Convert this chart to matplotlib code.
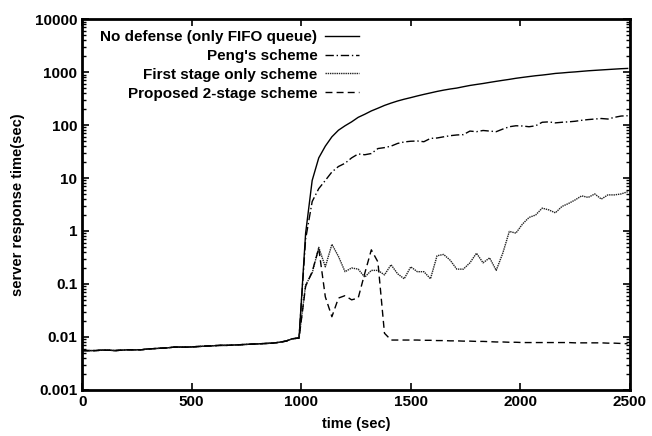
import numpy as np
import matplotlib
matplotlib.use('Agg')
import matplotlib.pyplot as plt
from matplotlib.ticker import LogLocator, FixedLocator, NullFormatter

plt.rcParams['font.family'] = ['Liberation Sans', 'DejaVu Sans']
plt.rcParams['font.weight'] = 'bold'

# sample times (sec), one sample every 30 s
t_pre = np.arange(0, 991, 30)        # before the attack, all schemes identical
t_post = np.arange(1020, 2491, 30)   # after the attack starts

# response time before the attack (shared by every scheme)
base = [0.0055, 0.0055, 0.0055, 0.0056, 0.0056, 0.0055, 0.0056, 0.0057, 0.0057,
        0.0057, 0.0059, 0.0060, 0.0061, 0.0062, 0.0064, 0.0064, 0.0064, 0.0065,
        0.0066, 0.0067, 0.0068, 0.0069, 0.0069, 0.0070, 0.0071, 0.0072, 0.0073,
        0.0074, 0.0075, 0.0076, 0.0079, 0.0083, 0.0092, 0.0095]

no_defense = [0.9, 9, 24, 40, 60, 80, 97, 115, 140, 160, 185, 208, 235, 260, 285,
              308, 330, 355, 380, 405, 432, 457, 480, 500, 530, 560, 585, 610, 640,
              670, 700, 730, 765, 795, 825, 855, 880, 910, 945, 965, 990, 1010, 1035,
              1060, 1080, 1100, 1120, 1140, 1160, 1175]

peng = [0.7, 3.6, 6.3, 9, 13, 16.5, 19, 24, 28.5, 27.5, 29, 36, 37.5, 40, 45, 48,
        49.5, 50, 48.5, 56, 57, 60, 63, 65, 66, 77, 75, 79, 77, 75, 84, 93, 97, 96,
        93, 97, 113, 115, 110, 113, 115, 118, 123, 127, 130, 133, 130, 140, 148, 150]

first_stage = [0.095, 0.16, 0.49, 0.21, 0.56, 0.33, 0.17, 0.20, 0.19, 0.134, 0.18,
               0.18, 0.148, 0.23, 0.155, 0.125, 0.21, 0.17, 0.17, 0.125, 0.34, 0.36,
               0.28, 0.19, 0.19, 0.25, 0.38, 0.25, 0.31, 0.18, 0.38, 0.98, 0.91, 1.35,
               1.8, 2.0, 2.7, 2.5, 2.2, 2.9, 3.3, 3.85, 4.6, 4.3, 5.0, 4.0, 4.8, 4.8,
               5.0, 5.5]

two_stage = [0.09, 0.17, 0.47, 0.057, 0.024, 0.054, 0.06, 0.05, 0.054, 0.158, 0.44,
             0.26, 0.0117, 0.0087, 0.0087, 0.0087, 0.0087, 0.0087, 0.0086, 0.0086,
             0.0085, 0.0085, 0.0084, 0.0084, 0.0083, 0.0083, 0.0082, 0.0082, 0.0081,
             0.0080, 0.0080, 0.0079, 0.0079, 0.0078, 0.0078, 0.0078, 0.0078, 0.0078,
             0.0078, 0.0078, 0.0078, 0.0077, 0.0077, 0.0077, 0.0077, 0.0077, 0.0076,
             0.0076, 0.0075, 0.0074]

labels = ['No defense (only FIFO queue)', "Peng's scheme",
          'First stage only scheme', 'Proposed 2-stage scheme']
styles = ['-', (0, (6, 2, 1, 2)), (0, (1, 0.6)), (0, (5, 3))]
colors = ['black', 'black', '#222222', 'black']

t_all = np.concatenate([t_pre, t_post])

fig = plt.figure(figsize=(6.52, 4.36), dpi=100)
ax = fig.add_axes([0.126, 0.106, 0.840, 0.850])

for ys, lab, ls, c in zip([no_defense, peng, first_stage, two_stage], labels, styles, colors):
    ax.plot(t_all, np.concatenate([base, ys]), color=c, linestyle=ls, lw=1.0, label=lab)

ax.set_yscale('log')
ax.set_xlim(0, 2500)
ax.set_ylim(0.001, 10000)
ax.xaxis.set_major_locator(FixedLocator([0, 500, 1000, 1500, 2000, 2500]))
ax.yaxis.set_minor_locator(LogLocator(base=10, subs=np.arange(2, 10), numticks=20))
ax.yaxis.set_minor_formatter(NullFormatter())
ax.set_yticks([0.001, 0.01, 0.1, 1, 10, 100, 1000, 10000])
ax.set_yticklabels(['0.001', '0.01', '0.1', '1', '10', '100', '1000', '10000'])

ax.tick_params(which='both', direction='in', top=True, right=True, labelsize=11)
ax.tick_params(which='major', length=5, width=1.2)
ax.tick_params(which='minor', length=3, width=1.0)
for sp in ax.spines.values():
    sp.set_linewidth(2)

ax.set_xlabel('time (sec)', fontsize=10.5, fontweight='bold', labelpad=6)
ax.set_ylabel('server response time(sec)', fontsize=10.5, fontweight='bold', labelpad=7)

leg = ax.legend(loc='upper left', bbox_to_anchor=(0.011, 1.003), frameon=False,
                markerfirst=False, fontsize=11, handlelength=2.2,
                handletextpad=0.5, labelspacing=0.31, borderpad=0.3)

fig.savefig('out.png', dpi=100)
